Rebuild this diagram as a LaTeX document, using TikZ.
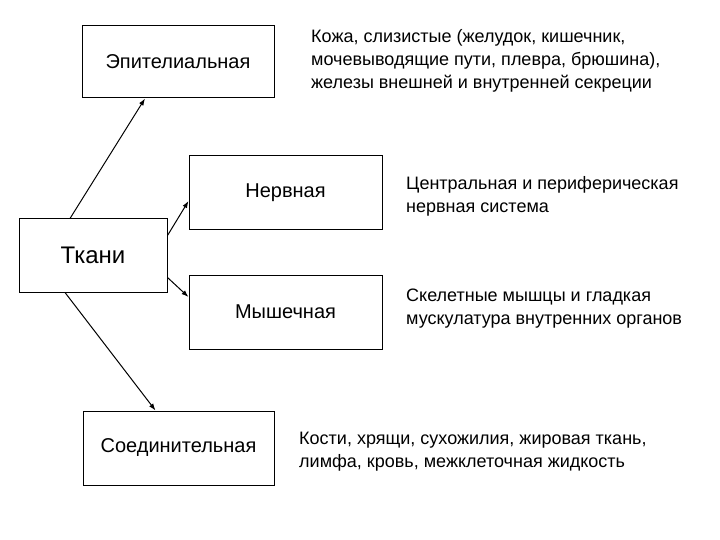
\documentclass[tikz,border=0pt]{standalone}
\usepackage{fontspec}
\setmainfont{Liberation Sans}
\usetikzlibrary{arrows.meta}
\begin{document}
\begin{tikzpicture}[
  x=1pt, y=-1pt,
  box/.style={draw, line width=1pt, inner sep=0pt, font=\fontsize{20}{22}\selectfont},
  desc/.style={anchor=west, align=left, inner sep=0pt,
               font=\fontsize{18}{23}\selectfont},
  link/.style={-{Latex[length=7pt,width=5pt]}, line width=1pt}
]
\useasboundingbox (0,0) rectangle (720,540);
% tissue boxes
\node[box, minimum width=148pt, minimum height=73pt, font=\fontsize{24}{26}\selectfont]
  (tkani) at (93,255.5) {Ткани};
\node[box, minimum width=192pt, minimum height=72pt] (epit) at (178,62) {Эпителиальная};
\node[box, minimum width=193pt, minimum height=74pt] (nerv) at (285.5,193) {Нервная};
\node[box, minimum width=193pt, minimum height=74pt] (mysh) at (285.5,312) {Мышечная};
\node[box, minimum width=191pt, minimum height=74pt] (soed) at (178.5,448) {Соединительная};
% descriptions
\node[desc] (epittext) at (311,61) {Кожа, слизистые (желудок, кишечник,\\
  мочевыводящие пути, плевра, брюшина),\\
  железы внешней и внутренней секреции};
\node[desc] (nervtext) at (406,196) {Центральная и периферическая\\
  нервная система};
\node[desc] (myshtext) at (406,309) {Скелетные мышцы и гладкая\\
  мускулатура внутренних органов};
\node[desc] (soedtext) at (299,452) {Кости, хрящи, сухожилия, жировая ткань,\\
  лимфа, кровь, межклеточная жидкость};
% arrows
\draw[link] ([xshift=-23pt]tkani.north) -- ([xshift=-33pt]epit.south);
\draw[link] ([yshift=20pt]tkani.east) -- ([yshift=-8pt]nerv.west);
\draw[link] ([yshift=-22pt]tkani.east) -- ([yshift=15pt]mysh.west);
\draw[link] ([xshift=-28pt]tkani.south) -- ([xshift=-23pt]soed.north);
\end{tikzpicture}
\end{document}
